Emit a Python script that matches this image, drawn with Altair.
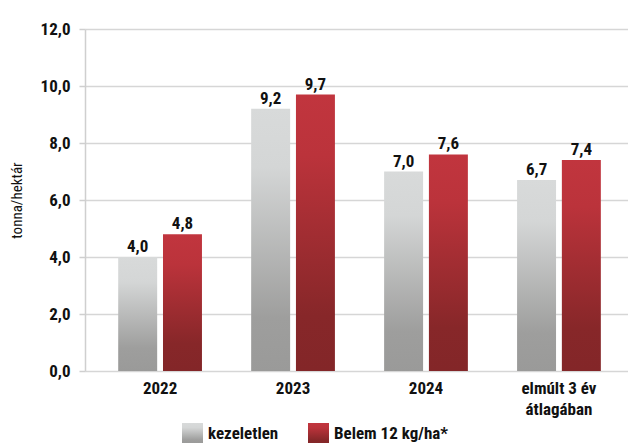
import altair as alt
import pandas as pd

categories = ["2022", "2023", "2024", "elmúlt 3 év|átlagában"]
series = ["kezeletlen", "Belem 12 kg/ha*"]
untreated = [4.0, 9.2, 7.0, 6.7]
belem = [4.8, 9.7, 7.6, 7.4]
y_ticks = [0, 2, 4, 6, 8, 10, 12]

rows = []
for c, u, b in zip(categories, untreated, belem):
    rows.append({"cat": c, "series": series[0], "value": u})
    rows.append({"cat": c, "series": series[1], "value": b})
df = pd.DataFrame(rows)

FONT = "'Liberation Sans Narrow', 'Roboto Condensed', 'Arial Narrow', sans-serif"

gray_grad = ("{gradient: 'linear', x1: 0, y1: 0, x2: 0, y2: 1, stops: ["
             "{offset: 0, color: '#d8dada'}, {offset: 0.22, color: '#d4d6d6'},"
             "{offset: 0.8, color: '#9e9e9d'}, {offset: 1, color: '#9a9a99'}]}")
red_grad = ("{gradient: 'linear', x1: 0, y1: 0, x2: 0, y2: 1, stops: ["
            "{offset: 0, color: '#c1353e'}, {offset: 0.22, color: '#bb333b'},"
            "{offset: 0.8, color: '#872729'}, {offset: 1, color: '#832628'}]}")

x = alt.X("cat:N", sort=categories,
          scale=alt.Scale(paddingInner=0.37, paddingOuter=0.227, align=0.55),
          axis=alt.Axis(title=None, labelExpr="split(datum.label, '|')", labelAngle=0,
                        ticks=False, domain=False, labelFontSize=17, labelFontWeight="bold",
                        labelPadding=9, labelLineHeight=21, labelColor="#111", labelFont=FONT))
xo = alt.XOffset("series:N", sort=series, scale=alt.Scale(paddingInner=0.13, paddingOuter=0))
y = alt.Y("value:Q", scale=alt.Scale(domain=[0, 12], nice=False),
          axis=alt.Axis(values=y_ticks, labelExpr="replace(format(datum.value, '.1f'), '.', ',')",
                        title="tonna/hektár", titleFontSize=15, titleFontWeight="normal",
                        titleFont=FONT, titleColor="#111", titlePadding=16,
                        labelFont=FONT, labelFontSize=17, labelFontWeight="bold", labelColor="#111",
                        labelPadding=9, tickSize=6, tickColor="#cfcfcf", tickWidth=1.5,
                        grid=True, gridColor="#d6d6d6", gridWidth=1.5,
                        domainColor="#cfcfcf", domainWidth=1.5))

bars = alt.Chart(df).mark_bar().encode(
    x=x, xOffset=xo, y=y,
    color=alt.Color("series:N", sort=series,
                    scale=alt.Scale(domain=series, range=[{"expr": gray_grad}, {"expr": red_grad}]),
                    legend=alt.Legend(title=None, orient="none", legendX=97, legendY=394,
                                      direction="horizontal", symbolType="square", symbolSize=441,
                                      symbolStrokeWidth=0, labelFont=FONT, labelFontSize=17,
                                      labelFontWeight="bold", labelColor="#111", labelOffset=5,
                                      columnPadding=29)),
)

labels = alt.Chart(df).transform_calculate(
    label="replace(format(datum.value, '.1f'), '.', ',')"
).mark_text(dy=-5, baseline="alphabetic", fontSize=17, fontWeight="bold", font=FONT, color="#111").encode(
    x=x, xOffset=xo, y=y, text="label:N"
)

chart = alt.layer(bars, labels).properties(
    width=543, height=342,
    padding={"left": 85, "top": 29, "right": 0, "bottom": 72},
    autosize=alt.AutoSizeParams(type="none"),
).configure_view(stroke=None)

chart.save("out.html", embed_options={"renderer": "svg", "actions": False})
